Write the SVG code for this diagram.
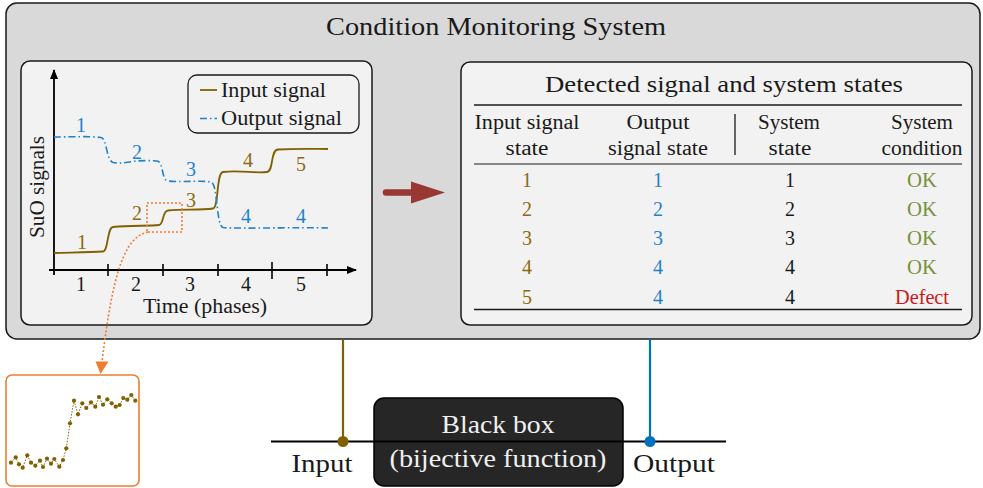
<svg xmlns="http://www.w3.org/2000/svg" width="983" height="488" viewBox="0 0 983 488">
  <style>
    text { font-family: "Liberation Serif", "Times New Roman", serif; fill: #1a1a1a; }
    .t20 { font-size: 20px; }
    .mid { text-anchor: middle; }
    .frame { stroke: #1a1a1a; stroke-width: 1.5; }
    .panel { fill: #f2f2f2; stroke: #1a1a1a; stroke-width: 1.5; }
    .in { fill: #8a6a12; }
    .out { fill: #1f82cc; }
    .ok { fill: #77933c; }
    .bad { fill: #cc1a1a; }
    .inline { fill: none; stroke: #806000; stroke-width: 1.8; }
    .outline { fill: none; stroke: #1f82cc; stroke-width: 1.6; stroke-dasharray: 7 3 1.5 3; }
    .zoomline { fill: none; stroke: #ed7d31; stroke-width: 1.6; stroke-dasharray: 2 2; }
    .rule { stroke: #1a1a1a; }
  </style>
  <defs>
    <marker id="axisHead" viewBox="0 0 10 8" refX="9" refY="4" markerWidth="10" markerHeight="8" markerUnits="userSpaceOnUse" orient="auto">
      <path d="M0,0 L10,4 L0,8 Z" fill="#000"/>
    </marker>
  </defs>

  <rect width="983" height="488" fill="#ffffff"/>

  <!-- outer frame: the monitoring system -->
  <g id="monitoring-system">
    <rect x="6" y="3" width="974" height="336" rx="11" fill="#d9d9d9" class="frame"/>
    <text x="496" y="35" class="mid" font-size="26" textLength="340" lengthAdjust="spacingAndGlyphs">Condition Monitoring System</text>
  </g>

  <!-- signal plot -->
  <g id="signal-plot">
    <rect x="21" y="61" width="351" height="264" rx="9" class="panel"/>
    <!-- axes -->
    <line x1="54" y1="275" x2="54" y2="70" stroke="#000" stroke-width="1.8" marker-end="url(#axisHead)"/>
    <line x1="49" y1="270" x2="356" y2="270" stroke="#000" stroke-width="1.8" marker-end="url(#axisHead)"/>
    <g stroke="#000" stroke-width="1.6">
      <line x1="108" y1="264" x2="108" y2="276"/>
      <line x1="163" y1="264" x2="163" y2="276"/>
      <line x1="218" y1="264" x2="218" y2="276"/>
      <line x1="272" y1="262" x2="272" y2="279"/>
      <line x1="327" y1="264" x2="327" y2="276"/>
    </g>
    <g class="t20">
      <text x="81" y="291" class="mid">1</text>
      <text x="136" y="291" class="mid">2</text>
      <text x="190" y="291" class="mid">3</text>
      <text x="246" y="291" class="mid">4</text>
      <text x="301" y="291" class="mid">5</text>
      <text x="205" y="313" class="mid" textLength="124" lengthAdjust="spacingAndGlyphs">Time (phases)</text>
      <text transform="translate(44,187) rotate(-90)" class="mid" textLength="102" lengthAdjust="spacingAndGlyphs">SuO signals</text>
    </g>

    <!-- input signal -->
    <path class="inline" d="M54,253 C70,252.5 90,252.5 103,251.5 C108.5,251 107,227.5 113,227 C130,225.5 150,226 159,225 C164,224.5 162,211 168,210.5 C185,209 200,210.5 213,208.5 C219,207.5 216,173 223,172 C240,170 255,173.5 267,172 C274,171 270,150 278,149.5 C295,148.5 315,149 328,149"/>
    <!-- output signal -->
    <path class="outline" d="M54,137 C70,137 90,136 101,137.5 C107,138 106,160 113,162.5 C125,165 130,159 157,161 C164,162 161,180 168,181 C185,182.5 200,180 211,182 C218,183 216,226 223,227.5 C240,229 300,227 328,228"/>

    <g class="t20">
      <text x="82" y="249" class="mid in">1</text>
      <text x="137" y="220" class="mid in">2</text>
      <text x="191" y="207" class="mid in">3</text>
      <text x="248" y="167" class="mid in">4</text>
      <text x="301" y="171" class="mid in">5</text>
      <text x="81" y="132" class="mid out">1</text>
      <text x="137" y="159" class="mid out">2</text>
      <text x="191" y="176" class="mid out">3</text>
      <text x="246" y="223" class="mid out">4</text>
      <text x="301" y="223" class="mid out">4</text>
    </g>

    <!-- legend -->
    <rect x="188" y="75" width="171" height="58" rx="9" fill="#f2f2f2" stroke="#1a1a1a" stroke-width="1.3"/>
    <line x1="200" y1="90" x2="217" y2="90" stroke="#806000" stroke-width="1.8"/>
    <line x1="200" y1="118.5" x2="217" y2="118.5" class="outline"/>
    <text x="221" y="97" class="t20" textLength="105" lengthAdjust="spacingAndGlyphs">Input signal</text>
    <text x="221" y="125" class="t20" textLength="121" lengthAdjust="spacingAndGlyphs">Output signal</text>

    <!-- zoom window on the 2→3 transition -->
    <rect x="147" y="203" width="35" height="29" class="zoomline"/>
  </g>

  <!-- state table -->
  <g id="state-table">
    <rect x="461" y="62" width="511" height="263" rx="9" class="panel"/>
    <text x="724" y="92" class="mid" font-size="24" textLength="358" lengthAdjust="spacingAndGlyphs">Detected signal and system states</text>
    <line x1="474" y1="105" x2="962" y2="105" class="rule" stroke-width="1.6"/>
    <line x1="735" y1="114" x2="735" y2="155" class="rule" stroke-width="1.3"/>
    <line x1="474" y1="164" x2="962" y2="164" class="rule" stroke-width="1"/>
    <line x1="474" y1="309.5" x2="962" y2="309.5" class="rule" stroke-width="1.6"/>
    <g class="t20">
      <text x="527" y="129" class="mid" textLength="105" lengthAdjust="spacingAndGlyphs">Input signal</text>
      <text x="527" y="155" class="mid" textLength="43" lengthAdjust="spacingAndGlyphs">state</text>
      <text x="658" y="129" class="mid" textLength="63" lengthAdjust="spacingAndGlyphs">Output</text>
      <text x="658" y="155" class="mid" textLength="100" lengthAdjust="spacingAndGlyphs">signal state</text>
      <text x="789" y="129" class="mid" textLength="62" lengthAdjust="spacingAndGlyphs">System</text>
      <text x="790" y="155" class="mid" textLength="43" lengthAdjust="spacingAndGlyphs">state</text>
      <text x="922" y="129" class="mid" textLength="62" lengthAdjust="spacingAndGlyphs">System</text>
      <text x="922" y="155" class="mid" textLength="81" lengthAdjust="spacingAndGlyphs">condition</text>

      <text x="527" y="187" class="mid in">1</text>
      <text x="658" y="187" class="mid out">1</text>
      <text x="790" y="187" class="mid">1</text>
      <text x="922" y="187" class="mid ok" textLength="30" lengthAdjust="spacingAndGlyphs">OK</text>

      <text x="527" y="216" class="mid in">2</text>
      <text x="658" y="216" class="mid out">2</text>
      <text x="790" y="216" class="mid">2</text>
      <text x="922" y="216" class="mid ok" textLength="30" lengthAdjust="spacingAndGlyphs">OK</text>

      <text x="527" y="245" class="mid in">3</text>
      <text x="658" y="245" class="mid out">3</text>
      <text x="790" y="245" class="mid">3</text>
      <text x="922" y="245" class="mid ok" textLength="30" lengthAdjust="spacingAndGlyphs">OK</text>

      <text x="527" y="274" class="mid in">4</text>
      <text x="658" y="274" class="mid out">4</text>
      <text x="790" y="274" class="mid">4</text>
      <text x="922" y="274" class="mid ok" textLength="30" lengthAdjust="spacingAndGlyphs">OK</text>

      <text x="527" y="304" class="mid in">5</text>
      <text x="658" y="304" class="mid out">4</text>
      <text x="790" y="304" class="mid">4</text>
      <text x="922" y="304" class="mid bad" textLength="54" lengthAdjust="spacingAndGlyphs">Defect</text>
    </g>
  </g>

  <!-- the system under observation -->
  <g id="black-box">
    <rect x="374" y="398" width="249" height="88" rx="10" fill="#262626" stroke="#000" stroke-width="1.5"/>
    <text x="498" y="433" class="mid" font-size="26" fill="#f0f0f0" style="fill:#f0f0f0" textLength="113" lengthAdjust="spacingAndGlyphs">Black box</text>
    <text x="498" y="467" class="mid" font-size="26" style="fill:#f0f0f0" textLength="217" lengthAdjust="spacingAndGlyphs">(bijective function)</text>
  </g>

  <g id="io-labels">
    <text x="322" y="472" class="mid" font-size="25" textLength="61" lengthAdjust="spacingAndGlyphs">Input</text>
    <text x="674" y="472" class="mid" font-size="25" textLength="82" lengthAdjust="spacingAndGlyphs">Output</text>
  </g>

  <!-- magnified view of the sampled input step -->
  <g id="sample-inset">
    <rect x="6" y="375" width="133" height="111" rx="6" fill="#ffffff" stroke="#ed7d31" stroke-width="1.6"/>
    <polyline fill="none" stroke="#806000" stroke-width="1" stroke-dasharray="1.5 1.5"
      points="11,462.7 15.7,457.3 19,464.3 22.7,467.7 27.3,455.3 31,462.7 35.3,465.7 40,460.7 43,467 47,458.7 51,463.7 54.3,459 59.3,466.7 63,460 66.3,448.3 70,423.3 74,400.7 78,414.3 82.3,403.3 86.3,408 91,402.3 95.3,406.7 99,397 103,404.7 107.3,399.3 111.7,403.3 115.7,406.7 119.7,405 123.3,398 127.3,399.7 131.3,395 135.3,400.7"/>
    <g fill="#806000">
      <circle cx="11" cy="462.7" r="2.1"/><circle cx="15.7" cy="457.3" r="2.1"/><circle cx="19" cy="464.3" r="2.1"/><circle cx="22.7" cy="467.7" r="2.1"/>
      <circle cx="27.3" cy="455.3" r="2.1"/><circle cx="31" cy="462.7" r="2.1"/><circle cx="35.3" cy="465.7" r="2.1"/><circle cx="40" cy="460.7" r="2.1"/>
      <circle cx="43" cy="467" r="2.1"/><circle cx="47" cy="458.7" r="2.1"/><circle cx="51" cy="463.7" r="2.1"/><circle cx="54.3" cy="459" r="2.1"/>
      <circle cx="59.3" cy="466.7" r="2.1"/><circle cx="63" cy="460" r="2.1"/><circle cx="66.3" cy="448.3" r="2.1"/><circle cx="70" cy="423.3" r="2.1"/>
      <circle cx="74" cy="400.7" r="2.1"/><circle cx="78" cy="414.3" r="2.1"/><circle cx="82.3" cy="403.3" r="2.1"/><circle cx="86.3" cy="408" r="2.1"/>
      <circle cx="91" cy="402.3" r="2.1"/><circle cx="95.3" cy="406.7" r="2.1"/><circle cx="99" cy="397" r="2.1"/><circle cx="103" cy="404.7" r="2.1"/>
      <circle cx="107.3" cy="399.3" r="2.1"/><circle cx="111.7" cy="403.3" r="2.1"/><circle cx="115.7" cy="406.7" r="2.1"/><circle cx="119.7" cy="405" r="2.1"/>
      <circle cx="123.3" cy="398" r="2.1"/><circle cx="127.3" cy="399.7" r="2.1"/><circle cx="131.3" cy="395" r="2.1"/><circle cx="135.3" cy="400.7" r="2.1"/>
    </g>
  </g>

  <!-- connectors -->
  <g id="connectors">
    <!-- plot to table -->
    <line x1="386" y1="192.5" x2="413" y2="192.5" stroke="#993833" stroke-width="6.5" stroke-linecap="round"/>
    <polygon points="411,181.5 445,192.5 411,203.5" fill="#993833"/>
    <!-- signal line through the black box -->
    <line x1="271" y1="441.5" x2="726" y2="441.5" stroke="#000" stroke-width="2.2"/>
    <!-- taps on input and output -->
    <line x1="343" y1="339.5" x2="343" y2="441.5" stroke="#806000" stroke-width="2.2"/>
    <circle cx="343" cy="441.5" r="5.5" fill="#806000"/>
    <line x1="650" y1="339.5" x2="650" y2="441.5" stroke="#0070c0" stroke-width="2.2"/>
    <circle cx="650" cy="441.5" r="5.5" fill="#0070c0"/>
    <!-- zoom window to inset -->
    <path class="zoomline" d="M148,232 C125,237 113,270 102,362"/>
    <polygon points="95.5,361.5 108.5,361.5 100.5,374" fill="#ed7d31"/>
  </g>
</svg>
